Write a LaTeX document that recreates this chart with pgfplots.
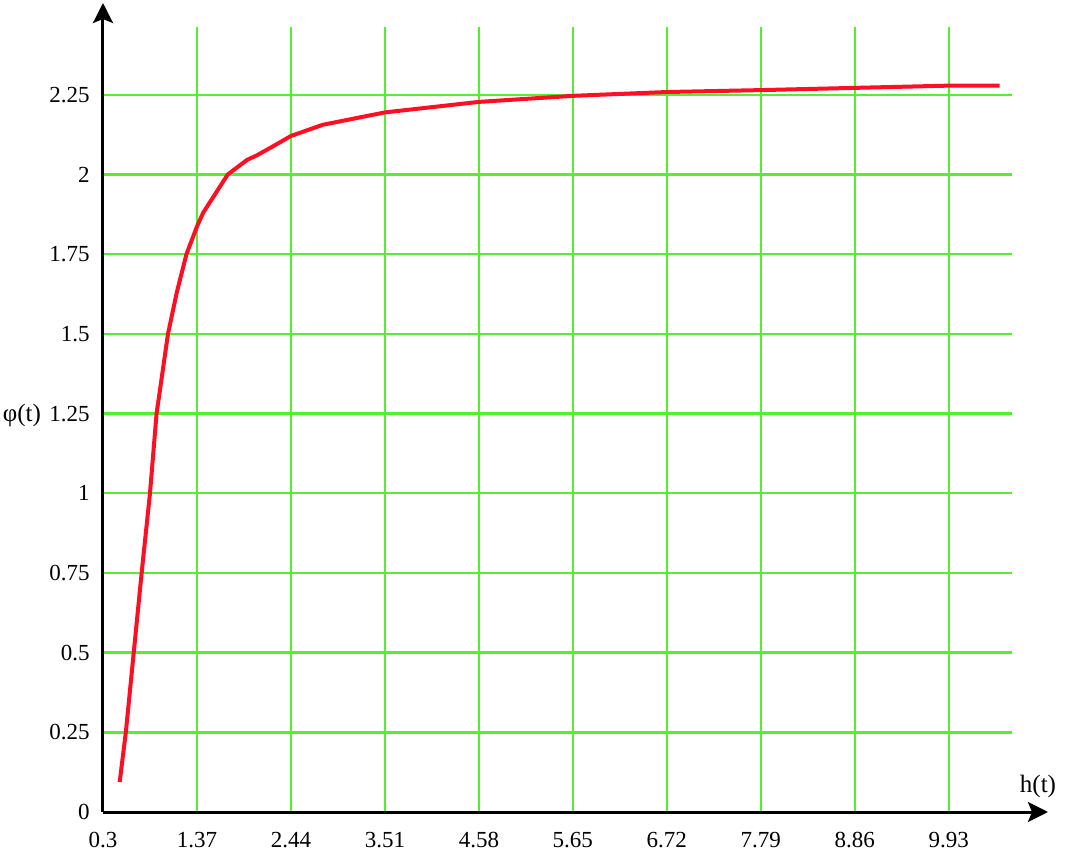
\documentclass[border=0pt]{standalone}
\usepackage{fontspec}
\setmainfont{Liberation Serif}
\usepackage{pgfplots}
\pgfplotsset{compat=1.18}
\usetikzlibrary{arrows.meta}
\definecolor{gridgreen}{RGB}{85,238,50}
\definecolor{curvered}{RGB}{255,15,35}
\begin{document}
\begin{tikzpicture}
\begin{axis}[
  scale only axis,
  width=454.5pt, height=392.5pt,
  xmin=0.3, xmax=10.65, ymin=0, ymax=2.463,
  axis lines=left,
  x axis line style={line width=1.5pt, -{Stealth[length=10pt,width=10pt,inset=2pt]}, shorten >=-18pt},
  y axis line style={line width=1.5pt, -{Stealth[length=10pt,width=10pt,inset=2pt]}, shorten >=-12pt},
  grid=major,
  major grid style={line width=1.2pt, gridgreen},
  tick style={draw=none},
  xtick={0.3,1.37,2.44,3.51,4.58,5.65,6.72,7.79,8.86,9.93},
  xticklabels={0.3,1.37,2.44,3.51,4.58,5.65,6.72,7.79,8.86,9.93},
  ytick={0,0.25,0.5,0.75,1,1.25,1.5,1.75,2,2.25},
  yticklabels={0,0.25,0.5,0.75,1,1.25,1.5,1.75,2,2.25},
  /pgf/number format/assume math mode=true,
  tick label style={font=\fontsize{11.5}{13}\selectfont},
  xticklabel style={yshift=-4.5pt},
  yticklabel style={xshift=-1pt},
  every axis x label/.style={at={(axis description cs:1,0)}, anchor=center, xshift=13pt, yshift=13pt, font=\fontsize{12.5}{14}\selectfont},
  every axis y label/.style={at={(axis description cs:0,0.5045)}, anchor=center, xshift=-40.5pt, font=\fontsize{12.5}{14}\selectfont},
  xlabel={h(t)},
  ylabel={φ(t)},
  clip=false,
]
\addplot[curvered, line width=2pt] coordinates {
(0.49,0.094) (0.56,0.25) (0.65,0.5) (0.74,0.75) (0.835,1.0) (0.91,1.25)
(1.04,1.5) (1.14,1.63) (1.25,1.75) (1.37,1.837) (1.44,1.88) (1.72,2.0)
(1.94,2.046) (2.05,2.06) (2.20,2.083) (2.44,2.121) (2.80,2.156) (3.51,2.195)
(4.58,2.228) (5.65,2.247) (6.72,2.259) (7.79,2.265) (8.86,2.272) (9.93,2.279) (10.51,2.279)
};
\end{axis}
\pgfresetboundingbox
\path (-51.5pt,-20pt) rectangle (482pt,406pt);
\end{tikzpicture}
\end{document}
